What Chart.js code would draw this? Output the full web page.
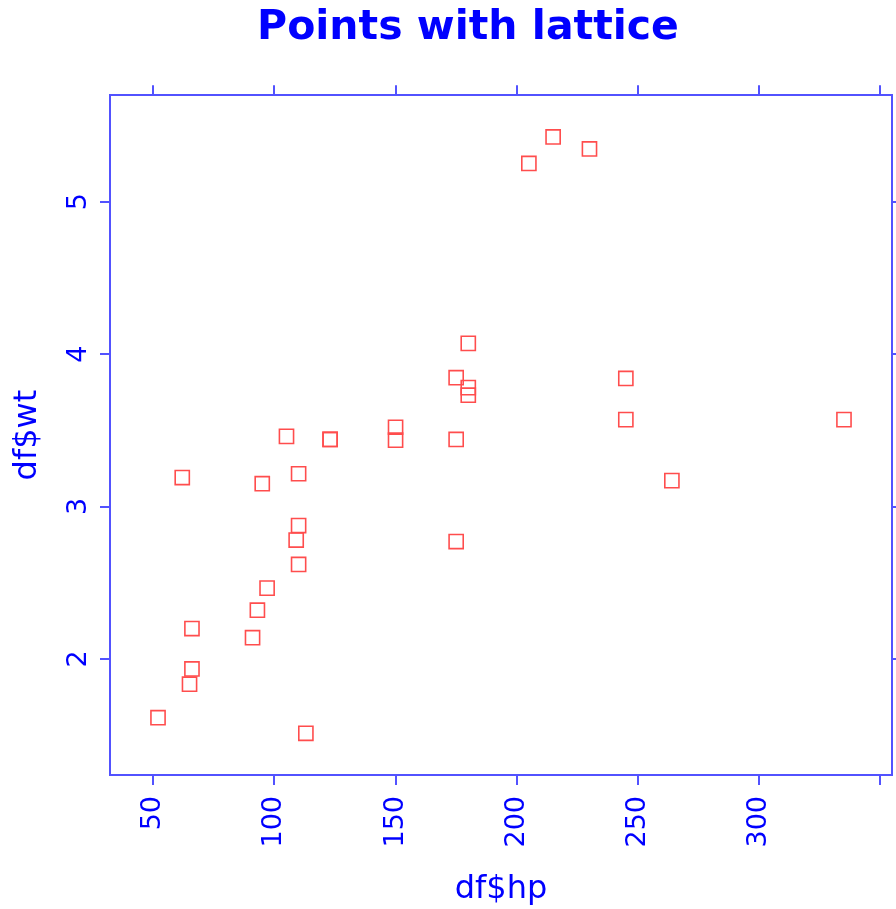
<!DOCTYPE html>
<html>
<head>
<meta charset="utf-8">
<script src="https://cdn.jsdelivr.net/npm/chart.js@4"></script>
<style>
  html, body { margin: 0; padding: 0; background: #fff; }
  #wrap { width: 896px; height: 909px; }
</style>
</head>
<body>
<div id="wrap"><canvas id="chart" width="896" height="909"></canvas></div>
<script>
// horsepower and weight
const hpValues = [110, 110, 93, 110, 175, 105, 245, 62, 95, 123, 123, 180, 180, 180, 205, 215,
  230, 66, 52, 65, 97, 150, 150, 245, 175, 66, 91, 113, 264, 175, 335, 109];
const wtValues = [2.62, 2.875, 2.32, 3.215, 3.44, 3.46, 3.57, 3.19, 3.15, 3.44, 3.44, 4.07, 3.73, 3.78, 5.25, 5.424,
  5.345, 2.2, 1.615, 1.835, 2.465, 3.52, 3.435, 3.84, 3.845, 1.935, 2.14, 1.513, 3.17, 2.77, 3.57, 2.78];
const xTicks = [50, 100, 150, 200, 250, 300, 350];
const xLabelled = [50, 100, 150, 200, 250, 300];
const yTicks = [2, 3, 4, 5];

const BLUE_TEXT = '#0000ff';
const BLUE_LINE = '#5252ff';

// lattice pads the data range by 7% each side
function padRange(vals) {
  const lo = Math.min(...vals), hi = Math.max(...vals);
  const d = (hi - lo) * 0.07;
  return { min: lo - d, max: hi + d };
}
const xr = padRange(hpValues);
const yr = padRange(wtValues);

const points = hpValues.map((hp, i) => ({ x: hp, y: wtValues[i] }));

const setTicks = list => scale => { scale.ticks = list.map(v => ({ value: v })); };

function axisBase(pos, range, tickList) {
  return {
    type: 'linear',
    position: pos,
    min: range.min,
    max: range.max,
    afterBuildTicks: setTicks(tickList),
    border: { display: true, color: BLUE_LINE, width: 2 },
    grid: { drawOnChartArea: false, drawTicks: true, tickLength: 10, color: BLUE_LINE, lineWidth: 2 }
  };
}

const noSidePad = s => { s.paddingLeft = 0; s.paddingRight = 0; s.paddingTop = 0; s.paddingBottom = 0; };

const x = axisBase('bottom', xr, xTicks);
x.ticks = {
  color: BLUE_TEXT, minRotation: 90, maxRotation: 90, padding: 11,
  font: { family: 'DejaVu Sans', size: 27 },
  callback: v => xLabelled.includes(v) ? String(v) : ''
};
x.title = { display: true, text: 'df$hp', color: BLUE_TEXT, font: { family: 'DejaVu Sans', size: 32 }, padding: { top: 0, bottom: 0 } };
x.afterFit = s => { s.height = 909 - 775; noSidePad(s); };

const x2 = axisBase('top', xr, xTicks);
x2.ticks = { display: false };
x2.afterFit = s => { s.height = 42; noSidePad(s); };

const y = axisBase('left', yr, yTicks);
y.ticks = {
  color: BLUE_TEXT, minRotation: 90, maxRotation: 90, padding: 12, crossAlign: 'center',
  font: { family: 'DejaVu Sans', size: 27 }
};
// layout padding pushes the title centre right; pull the axis title back out to the left
y.title = { display: true, text: 'df$wt', color: BLUE_TEXT, font: { family: 'DejaVu Sans', size: 32 }, padding: { top: -32, bottom: 0 } };
y.afterFit = s => { s.width = 70; noSidePad(s); };

const y2 = axisBase('right', yr, yTicks);
y2.ticks = { display: false };
y2.afterFit = s => { s.width = 4; noSidePad(s); };

new Chart(document.getElementById('chart'), {
  type: 'scatter',
  data: {
    datasets: [{
      label: 'wt vs hp',
      data: points,
      pointStyle: 'rect',
      pointRadius: 10,
      pointHoverRadius: 10,
      borderColor: '#ff4d4d',
      backgroundColor: 'rgba(0,0,0,0)',
      borderWidth: 1.6,
      xAxisID: 'x',
      yAxisID: 'y'
    }]
  },
  options: {
    responsive: false,
    animation: false,
    layout: { autoPadding: false, padding: { left: 40, right: 0, top: 0, bottom: 0 } },
    plugins: {
      legend: { display: false },
      tooltip: { enabled: false },
      title: {
        display: true,
        text: 'Points with lattice',
        color: BLUE_TEXT,
        font: { family: 'DejaVu Sans', size: 41, weight: 'bold', lineHeight: 1.2 },
        padding: { top: 4, bottom: 0 }
      }
    },
    scales: { x, x2, y, y2 }
  }
});
</script>
</body>
</html>
